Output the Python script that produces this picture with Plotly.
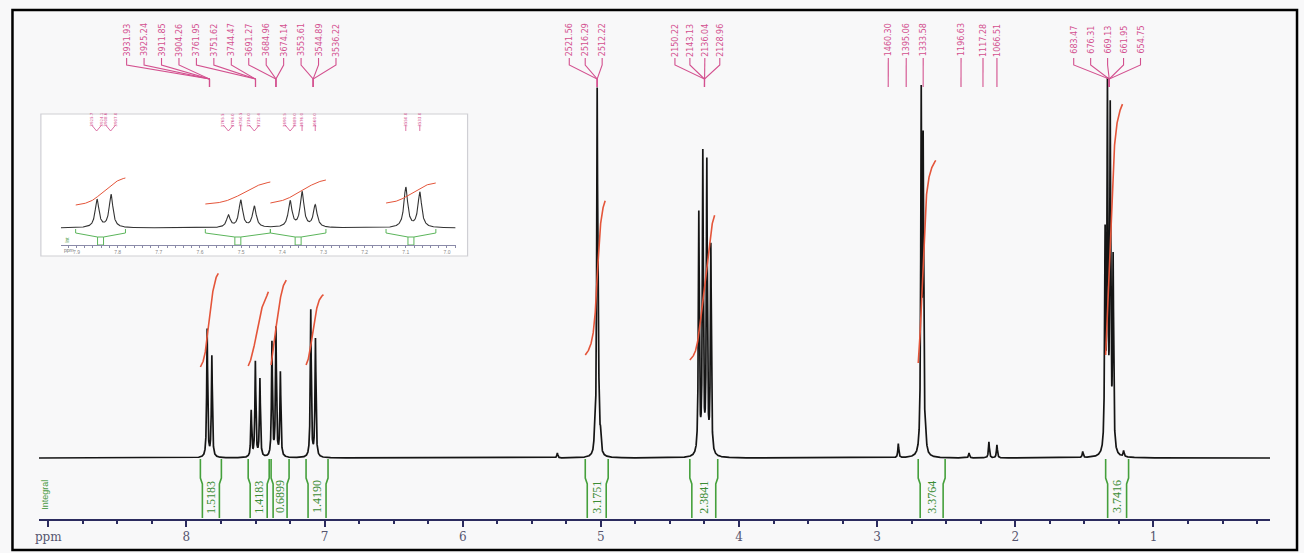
import numpy as np
import plotly.graph_objects as go

# ------------------------------------------------------------------ data
# aromatic lines (ppm) with heights in the main trace and in the expanded inset
arom_ppm = [7.850, 7.816, 7.531, 7.501, 7.468, 7.381, 7.352, 7.320, 7.100, 7.066]
arom_main_h = [128, 101, 46, 95, 78, 114, 128, 84, 147, 118]
arom_inset_h = [28, 33, 12, 27, 21, 26, 35, 22, 40, 35]

# remaining lines of the main trace
aliph_ppm = [5.315, 5.045, 5.027, 5.019, 5.003,
             4.291, 4.262, 4.233, 4.204,
             2.847, 2.681, 2.667, 2.650,
             2.335, 2.191, 2.133,
             1.512, 1.350, 1.333, 1.313, 1.292, 1.216]
aliph_h = [5, 18, 345, 120, 16,
           240, 298, 290, 208,
           14, 350, 300, 22,
           5, 16, 13,
           6, 210, 355, 335, 190, 6]

# integrals of the main trace
int_start = [7.899, 7.553, 7.387, 7.134, 5.113, 4.356, 2.703, 1.346]
int_end = [7.747, 7.401, 7.257, 6.975, 4.947, 4.154, 2.508, 1.180]
int_base = [91, 92, 93, 93, 103, 98, 95, 103]
int_rise = [97, 77, 88, 73, 160, 150, 210, 260]
int_label = ["1.5183", "1.4183", "0.6899", "1.4190", "3.1751", "2.3841", "3.3764", "3.7416"]

# integrals of the inset
inset_int_start = [7.902, 7.587, 7.429, 7.148]
inset_int_end = [7.781, 7.429, 7.294, 7.027]
inset_int_base = [23, 24, 25, 25]
inset_int_rise = [27, 22, 23, 20]

# peak-pick labels (Hz) and the ppm each one points to
pick_text = ["3931.93", "3925.24", "3911.85", "3904.26", "3761.95", "3751.62", "3744.47",
             "3691.27", "3684.96", "3674.14", "3553.61", "3544.89", "3536.22",
             "2521.56", "2516.29", "2512.22",
             "2150.22", "2143.13", "2136.04", "2128.96",
             "1460.30", "1395.06", "1333.58", "1196.63", "1117.28", "1066.51",
             "683.47", "676.31", "669.13", "661.95", "654.75"]
pick_target = [7.833, 7.833, 7.833, 7.833, 7.500, 7.500, 7.500,
               7.352, 7.352, 7.352, 7.083, 7.083, 7.083,
               5.027, 5.027, 5.027,
               4.250, 4.250, 4.250, 4.250,
               2.920, 2.790, 2.667, 2.393, 2.234, 2.133,
               1.320, 1.320, 1.320, 1.320, 1.320]

# inset peak-pick markers
inset_pick_target = [7.851, 7.851, 7.817, 7.817, 7.531, 7.531, 7.501, 7.468, 7.468,
                     7.381, 7.381, 7.352, 7.320, 7.100, 7.066]
inset_pick_text = ["3925.7", "3924.1", "3908.6", "3907.0", "3765.5", "3764.0", "3750.5",
                   "3734.0", "3732.4", "3690.5", "3689.0", "3676.0", "3660.0", "3550.0", "3533.0"]

main_ticks = [9, 8, 7, 6, 5, 4, 3, 2, 1]
main_ticktext = ["ppm", "8", "7", "6", "5", "4", "3", "2", "1"]

# ------------------------------------------------------------------ layout geometry
W, H = 1304, 553
X0_PX, X1_PX = 35, 1270
PPM_L, PPM_R = 9.068, 0.1556
BASE_PY = 458
AXIS_PY = 520

IX0, IX1 = 57, 453
IPPM_L, IPPM_R = 7.938, 6.979
IY_BOT, IY_TOP = 250, 117
IBASE = 228
IAXIS_PY = 245

pick_px = ([123 + 17.5 * i for i in range(13)] + [567, 583, 600] + [673, 688, 703, 718]
           + [887, 905, 922, 960, 982, 996] + [1073, 1090, 1107, 1123, 1140])
inset_offsets_px = [-5, 5, -5, 5, -5, 5, 0, -5, 5, -5, 5, 0, 0, 0, 0]
RED_STOP = 0.965   # integral trace drawn up to this fraction


def px2ppm(px):
    return PPM_L - (px - X0_PX) * (PPM_L - PPM_R) / (X1_PX - X0_PX)


def py2y(py):
    return BASE_PY - py


MAIN_SCALE = (PPM_L - PPM_R) / (X1_PX - X0_PX)
INSET_SCALE = (IPPM_L - IPPM_R) / (IX1 - IX0)


def ipy2y(py):
    return IBASE - py


def lorentz(x, centers, heights, hw):
    xx = np.asarray(x)[:, None]
    c = np.asarray(centers)[None, :]
    h = np.asarray(heights)[None, :]
    return (h * hw ** 2 / ((xx - c) ** 2 + hw ** 2)).sum(axis=1)


BLACK = "#151515"
RED = "#e4553a"
GREEN = "#45a03c"
PINK = "#d3508f"
NAVY = "#2b2b5e"

fig = go.Figure()

# ------------------------------------------------------------------ main spectrum
all_ppm = arom_ppm + aliph_ppm
all_h = arom_main_h + aliph_h
x = np.concatenate([np.linspace(PPM_L, PPM_R, 40000), np.array(all_ppm)])
x = np.sort(x)[::-1]
y = lorentz(x, all_ppm, all_h, 0.004)
y_broad = lorentz(x, all_ppm, all_h, 0.02)   # smoother shape for integral traces
fig.add_trace(go.Scatter(x=x, y=y, mode="lines", line=dict(color=BLACK, width=1.7),
                         hoverinfo="skip", showlegend=False))

# integral curves
for s, e, b, r in zip(int_start, int_end, int_base, int_rise):
    m = (x <= s) & (x >= e)
    xs = x[m]
    cs = np.cumsum(y_broad[m])
    frac = (cs - cs[0]) / (cs[-1] - cs[0])
    k = frac <= RED_STOP
    fig.add_trace(go.Scatter(x=xs[k], y=b + r * frac[k], mode="lines",
                             line=dict(color=RED, width=1.6),
                             hoverinfo="skip", showlegend=False))

# integral brackets below baseline
gx, gy = [], []
kink = 2 * MAIN_SCALE
for s, e in zip(int_start, int_end):
    gx += [s, s, s - kink, s - kink, None, e, e, e + kink, e + kink, None]
    gy += [py2y(459), py2y(478), py2y(484), py2y(518), None,
           py2y(459), py2y(478), py2y(484), py2y(518), None]
fig.add_trace(go.Scatter(x=gx, y=gy, mode="lines", line=dict(color=GREEN, width=1.6),
                         hoverinfo="skip", showlegend=False))

annotations = []
for s, e, lab in zip(int_start, int_end, int_label):
    annotations.append(dict(x=(s + e) / 2, y=py2y(497), xref="x", yref="y", text=lab,
                            textangle=-90, showarrow=False,
                            font=dict(family="Liberation Serif", size=12, color="#3c8c34")))
annotations.append(dict(x=px2ppm(41), y=py2y(495), xref="x", yref="y", text="Integral",
                        textangle=-90, showarrow=False,
                        font=dict(family="Liberation Sans", size=9, color="#4a9a44")))

# peak-pick labels
lx, ly = [], []
for px, tgt, txt in zip(pick_px, pick_target, pick_text):
    p = px2ppm(px)
    lx += [p, p, tgt, tgt, None]
    ly += [py2y(58), py2y(65), py2y(79), py2y(87), None]
    annotations.append(dict(x=p, y=py2y(40), xref="x", yref="y", text=txt, textangle=-90,
                            showarrow=False,
                            font=dict(family="DejaVu Sans", size=8, color=PINK)))
fig.add_trace(go.Scatter(x=lx, y=ly, mode="lines", line=dict(color=PINK, width=1.1),
                         hoverinfo="skip", showlegend=False))

# ------------------------------------------------------------------ inset
xi = np.concatenate([np.linspace(IPPM_L, IPPM_R, 4000), np.array(arom_ppm)])
xi = np.sort(xi)[::-1]
yi = lorentz(xi, arom_ppm, arom_inset_h, 0.0055)
yi_broad = lorentz(xi, arom_ppm, arom_inset_h, 0.02)
fig.add_trace(go.Scatter(x=xi, y=yi, mode="lines", line=dict(color="#333333", width=1.1),
                         xaxis="x2", yaxis="y2", hoverinfo="skip", showlegend=False))

for s, e, b, r in zip(inset_int_start, inset_int_end, inset_int_base, inset_int_rise):
    m = (xi <= s) & (xi >= e)
    xs = xi[m]
    cs = np.cumsum(yi_broad[m])
    cv = b + r * (cs - cs[0]) / (cs[-1] - cs[0])
    fig.add_trace(go.Scatter(x=xs, y=cv, mode="lines", line=dict(color=RED, width=1),
                             xaxis="x2", yaxis="y2", hoverinfo="skip", showlegend=False))

bx, by = [], []
d = 3 * INSET_SCALE
for s, e in zip(inset_int_start, inset_int_end):
    c = (s + e) / 2
    bx += [s, s, c + d, c + d, c - d, c - d, e, e, None, c + d, c - d, None]
    by += [ipy2y(229), ipy2y(233), ipy2y(237), ipy2y(245), ipy2y(245), ipy2y(237),
           ipy2y(233), ipy2y(229), None, ipy2y(237), ipy2y(237), None]
fig.add_trace(go.Scatter(x=bx, y=by, mode="lines", line=dict(color="#5bb55b", width=1),
                         xaxis="x2", yaxis="y2", hoverinfo="skip", showlegend=False))

mx, my = [], []
for tgt, off, txt in zip(inset_pick_target, inset_offsets_px, inset_pick_text):
    p = tgt - off * INSET_SCALE
    mx += [p, tgt, None]
    my += [ipy2y(125), ipy2y(131), None]
    annotations.append(dict(x=p, y=ipy2y(120), xref="x2", yref="y2", text=txt,
                            textangle=-90, showarrow=False,
                            font=dict(family="DejaVu Sans", size=4, color=PINK)))
fig.add_trace(go.Scatter(x=mx, y=my, mode="lines", line=dict(color=PINK, width=0.8),
                         xaxis="x2", yaxis="y2", hoverinfo="skip", showlegend=False))

annotations.append(dict(x=IPPM_L - 1 * INSET_SCALE, y=ipy2y(240), xref="x2", yref="y2",
                        text="Int", textangle=-90, showarrow=False, xanchor="left",
                        font=dict(family="Liberation Sans", size=5, color="#4a9a44")))
annotations.append(dict(x=IPPM_L - 1 * INSET_SCALE, y=ipy2y(250), xref="x2", yref="y2",
                        text="ppm", showarrow=False, xanchor="left",
                        font=dict(family="Liberation Sans", size=5, color="#777777")))

# ------------------------------------------------------------------ layout
shapes = [
    dict(type="rect", xref="paper", yref="paper", x0=37 / W, x1=465 / W,
         y0=(H - 256) / H, y1=(H - 114) / H, fillcolor="white",
         line=dict(color="#cfcfd4", width=1.2), layer="below"),
    dict(type="rect", xref="paper", yref="paper", x0=8.5 / W, x1=1297 / W,
         y0=(H - 550) / H, y1=(H - 10) / H, line=dict(color="black", width=2.5),
         fillcolor="rgba(0,0,0,0)", layer="above"),
]

fig.update_layout(
    width=W, height=H, margin=dict(l=0, r=0, t=0, b=0),
    paper_bgcolor="#f8f8f9", plot_bgcolor="rgba(0,0,0,0)",
    showlegend=False, shapes=shapes, annotations=annotations,
    xaxis=dict(domain=[X0_PX / W, X1_PX / W], range=[PPM_L, PPM_R], anchor="free",
               position=(H - AXIS_PY) / H, showline=True, linecolor=NAVY, linewidth=1.6,
               ticks="outside", ticklen=6, tickwidth=1.6, tickcolor=NAVY,
               tickmode="array", tickvals=main_ticks, ticktext=main_ticktext,
               tickfont=dict(family="DejaVu Serif", size=12, color="#55556f"),
               minor=dict(dtick=0.25, tick0=0, ticks="outside", ticklen=3,
                          tickwidth=1.5, tickcolor=NAVY, showgrid=False),
               showgrid=False, zeroline=False),
    yaxis=dict(domain=[0, 1], range=[BASE_PY - H, BASE_PY], visible=False, fixedrange=True),
    xaxis2=dict(domain=[IX0 / W, IX1 / W], range=[IPPM_L, IPPM_R], anchor="free",
                position=(H - IAXIS_PY) / H, showline=True, linecolor="#8a8aa8",
                linewidth=1, ticks="outside", ticklen=2, tickcolor="#8a8aa8",
                dtick=0.1, tick0=0, tickformat=".1f",
                tickfont=dict(family="Liberation Sans", size=5, color="#888888"),
                minor=dict(dtick=0.02, tick0=0, ticks="outside", ticklen=1.5,
                           tickcolor="#8a8aa8"),
                showgrid=False, zeroline=False),
    yaxis2=dict(domain=[(H - IY_BOT) / H, (H - IY_TOP) / H],
                range=[IBASE - IY_BOT, IBASE - IY_TOP], anchor="x2", visible=False),
)

fig.write_html(
    "out.html",
    config={"displayModeBar": False},
    post_script="document.body.style.margin='0px';"
                "document.documentElement.style.overflow='hidden';"
                "document.body.style.overflow='hidden';",
)
